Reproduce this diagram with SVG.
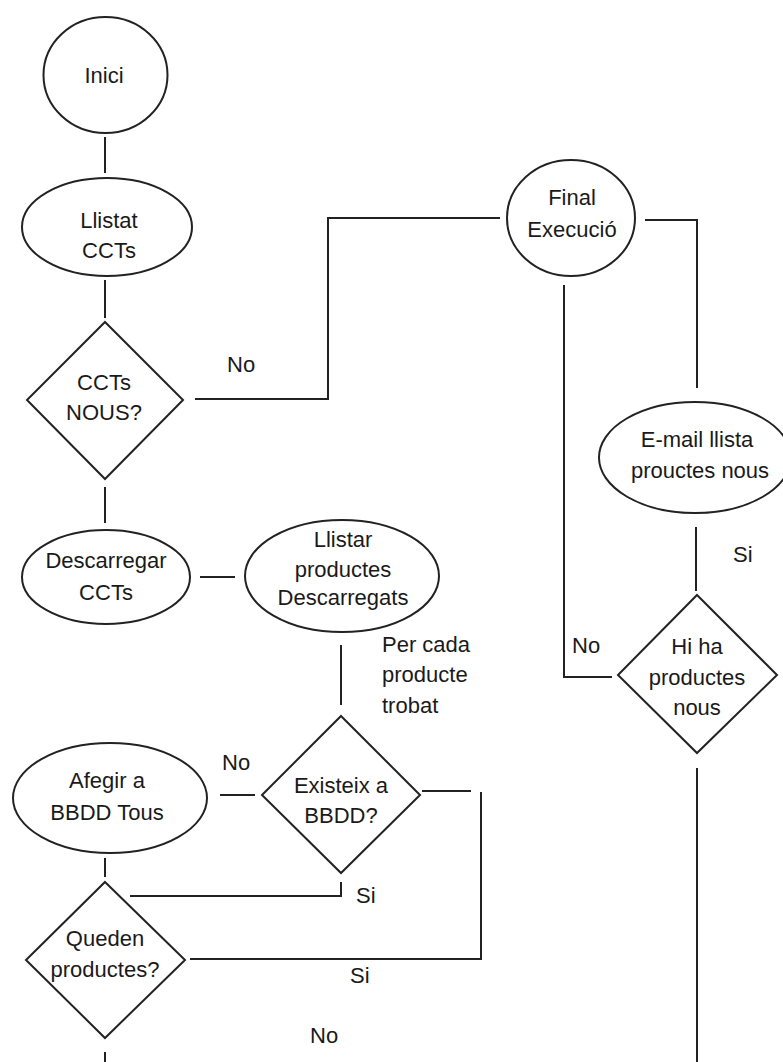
<svg xmlns="http://www.w3.org/2000/svg" width="783" height="1062" viewBox="0 0 783 1062">
<style>
.n{fill:#fff;stroke:#222;stroke-width:2}
.c{fill:none;stroke:#222;stroke-width:2}
text{font-family:"Liberation Sans",Arial,sans-serif;font-size:22px;fill:#1a1a1a}
.m{text-anchor:middle}
</style>
<rect width="783" height="1062" fill="#fff"/>
<g id="connectors">
<path class="c" d="M105,137V173"/>
<path class="c" d="M105,280V318"/>
<path class="c" d="M195,399H328V218H500"/>
<path class="c" d="M645,220H697V388"/>
<path class="c" d="M105,487V523"/>
<path class="c" d="M200,577H235"/>
<path class="c" d="M341,645V705"/>
<path class="c" d="M696,527V591"/>
<path class="c" d="M612,677H564V285"/>
<path class="c" d="M697,768V1062"/>
<path class="c" d="M220,795H255"/>
<path class="c" d="M422,791H471"/>
<path class="c" d="M481,792V959H190"/>
<path class="c" d="M105,858V877"/>
<path class="c" d="M341,882V896H130"/>
<path class="c" d="M105,1052V1062"/>
</g>
<g id="inici">
<ellipse class="n" cx="105.5" cy="75" rx="62" ry="58"/>
<text class="m" x="104" y="83">Inici</text>
</g>
<g id="llistat">
<ellipse class="n" cx="107" cy="227" rx="85" ry="49"/>
<text class="m" x="109" y="228">Llistat</text>
<text class="m" x="109" y="258">CCTs</text>
</g>
<g id="cctsnous">
<polygon class="n" points="105,322 183,400 105,479 27,400"/>
<text class="m" x="104" y="390">CCTs</text>
<text class="m" x="104" y="420">NOUS?</text>
</g>
<g id="final">
<ellipse class="n" cx="571" cy="218" rx="64" ry="58"/>
<text class="m" x="572" y="205">Final</text>
<text class="m" x="572" y="237">Execució</text>
</g>
<g id="email">
<ellipse class="n" cx="695" cy="457.5" rx="96" ry="55.5"/>
<text class="m" x="697" y="447">E-mail llista</text>
<text class="m" x="700" y="478">prouctes nous</text>
</g>
<g id="hiha">
<polygon class="n" points="697,595 777,675 697,753 618,675"/>
<text class="m" x="697" y="654">Hi ha</text>
<text class="m" x="697" y="685">productes</text>
<text class="m" x="697" y="715">nous</text>
</g>
<g id="descarregar">
<ellipse class="n" cx="106" cy="577" rx="84" ry="47"/>
<text class="m" x="106" y="568">Descarregar</text>
<text class="m" x="106" y="600">CCTs</text>
</g>
<g id="llistar">
<ellipse class="n" cx="342" cy="576" rx="97" ry="56"/>
<text class="m" x="343" y="547">Llistar</text>
<text class="m" x="343" y="577">productes</text>
<text class="m" x="343" y="605">Descarregats</text>
</g>
<g id="existeix">
<polygon class="n" points="341,716 420,795 341,873 262,795"/>
<text class="m" x="341" y="793">Existeix a</text>
<text class="m" x="341" y="823">BBDD?</text>
</g>
<g id="afegir">
<ellipse class="n" cx="110" cy="798" rx="97" ry="55"/>
<text class="m" x="107" y="788">Afegir a</text>
<text class="m" x="107" y="820">BBDD Tous</text>
</g>
<g id="queden">
<polygon class="n" points="105,882 185,960 105,1038 26,960"/>
<text class="m" x="105" y="946">Queden</text>
<text class="m" x="105" y="977">productes?</text>
</g>
<g id="labels">
<text x="227" y="372">No</text>
<text x="733" y="562">Si</text>
<text x="572" y="653">No</text>
<text x="382" y="652">Per cada</text>
<text x="382" y="682">producte</text>
<text x="382" y="713">trobat</text>
<text x="222" y="770">No</text>
<text x="356" y="903">Si</text>
<text x="350" y="983">Si</text>
<text x="310" y="1043">No</text>
</g>
</svg>
